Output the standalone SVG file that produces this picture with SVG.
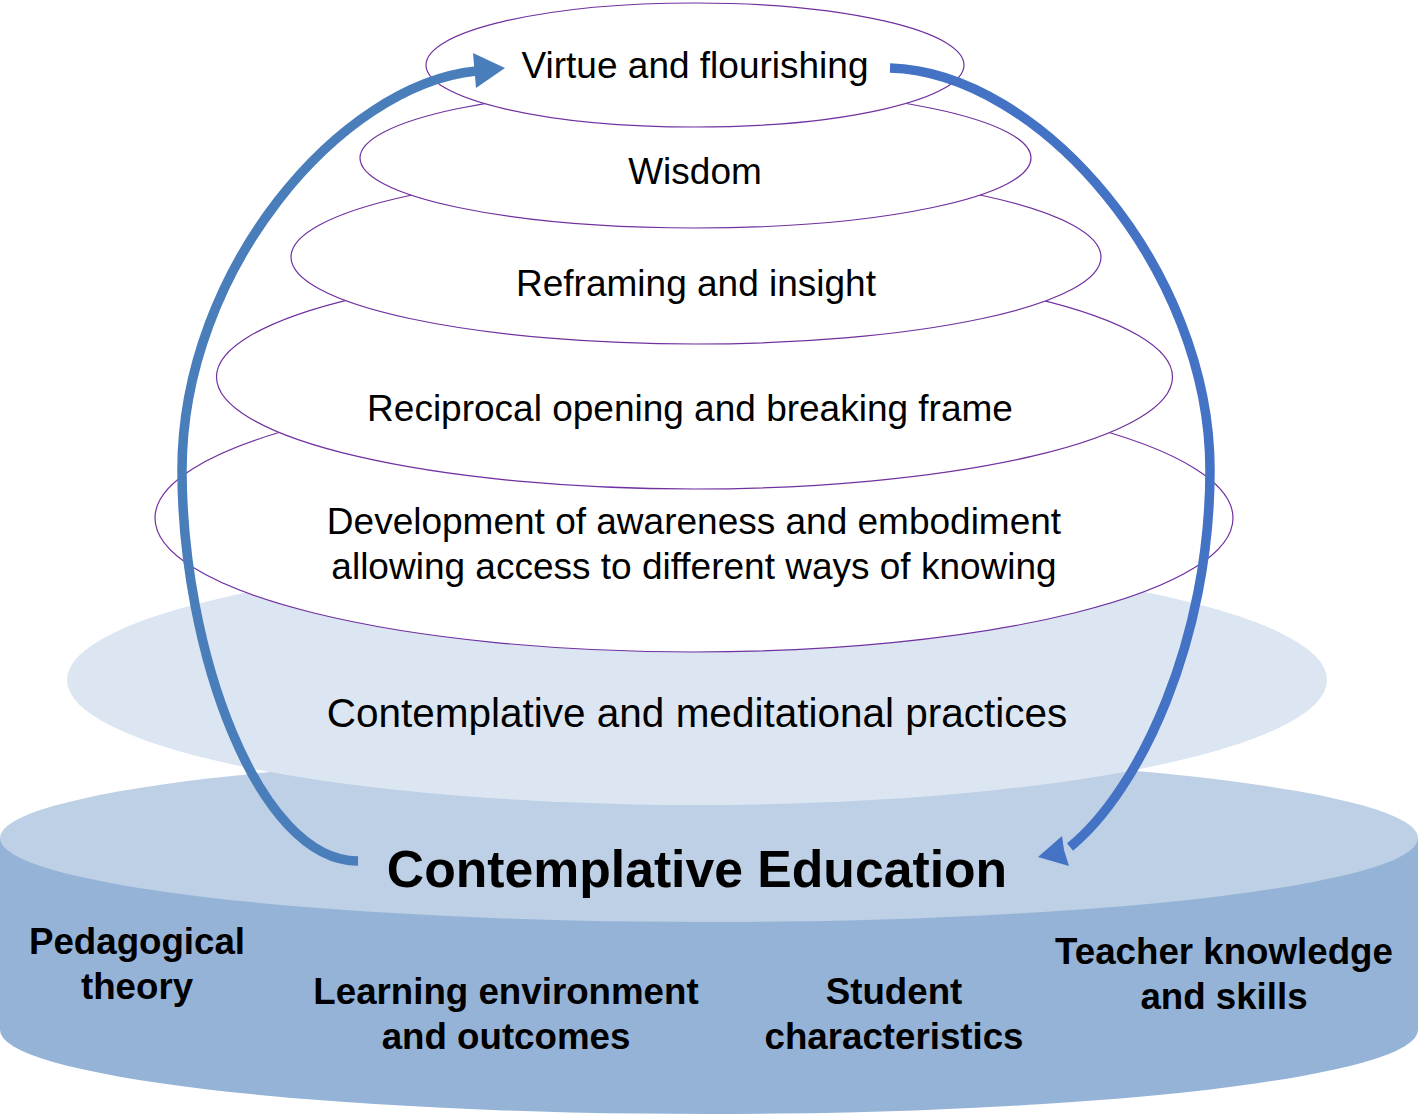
<svg xmlns="http://www.w3.org/2000/svg" width="1421" height="1117" viewBox="0 0 1421 1117">
<style>
.lvl{fill:#ffffff;stroke:#7030a0;stroke-width:1.2}
.t{font-family:"Liberation Sans",Arial,sans-serif;font-size:37px;fill:#000;text-anchor:middle}
.b{font-family:"Liberation Sans",Arial,sans-serif;font-size:36.7px;font-weight:bold;fill:#000;text-anchor:middle}
.arc{fill:none;stroke-width:9.5;stroke-linecap:butt}
</style>
<rect width="1421" height="1117" fill="#ffffff"/>
<g id="base">
  <path d="M0,838 L0,1030 A709,84 0 0 0 1418,1030 L1418,838 Z" fill="#95b3d7"/>
  <ellipse cx="709" cy="838" rx="709" ry="84" fill="#bdd0e6"/>
  <text class="b" x="697" y="887" style="font-size:51.7px">Contemplative Education</text>
  <text class="b" x="137" y="954">Pedagogical</text>
  <text class="b" x="137" y="999">theory</text>
  <text class="b" x="506" y="1004">Learning environment</text>
  <text class="b" x="506" y="1049">and outcomes</text>
  <text class="b" x="894" y="1004">Student</text>
  <text class="b" x="894" y="1049">characteristics</text>
  <text class="b" x="1224" y="964">Teacher knowledge</text>
  <text class="b" x="1224" y="1009">and skills</text>
</g>
<g id="practices">
  <ellipse cx="697" cy="680" rx="630" ry="125" fill="#dce6f2"/>
  <text class="t" x="697" y="727" style="font-size:40.5px">Contemplative and meditational practices</text>
</g>
<g id="development">
  <ellipse class="lvl" cx="694" cy="518" rx="539" ry="134"/>
  <text class="t" x="694" y="534">Development of awareness and embodiment</text>
  <text class="t" x="694" y="579">allowing access to different ways of knowing</text>
</g>
<g id="reciprocal">
  <ellipse class="lvl" cx="694.5" cy="377" rx="478" ry="112"/>
  <text class="t" x="690" y="421">Reciprocal opening and breaking frame</text>
</g>
<g id="reframing">
  <ellipse class="lvl" cx="696" cy="257" rx="405" ry="87"/>
  <text class="t" x="696" y="296">Reframing and insight</text>
</g>
<g id="wisdom">
  <ellipse class="lvl" cx="695.5" cy="158" rx="335.5" ry="70"/>
  <text class="t" x="695" y="184">Wisdom</text>
</g>
<g id="virtue">
  <ellipse class="lvl" cx="695" cy="65" rx="269" ry="62"/>
  <text class="t" x="695" y="78">Virtue and flourishing</text>
</g>
<g id="connectors">
  <path class="arc" stroke="#4a7ebb" stroke-width="10.5" d="M358,861 C258,861 182,650 182,470 C182,270 340,85 476,71"/>
  <polygon fill="#4a7ebb" points="505,68 473,53 476,88"/>
  <path class="arc" stroke="#4472c4" d="M890,68 C1040,72 1210,270 1210,470 C1210,640 1140,790 1070,847"/>
  <polygon fill="#4472c4" points="1038,857 1062,836 1064,850 1069,866"/>
</g>
</svg>
